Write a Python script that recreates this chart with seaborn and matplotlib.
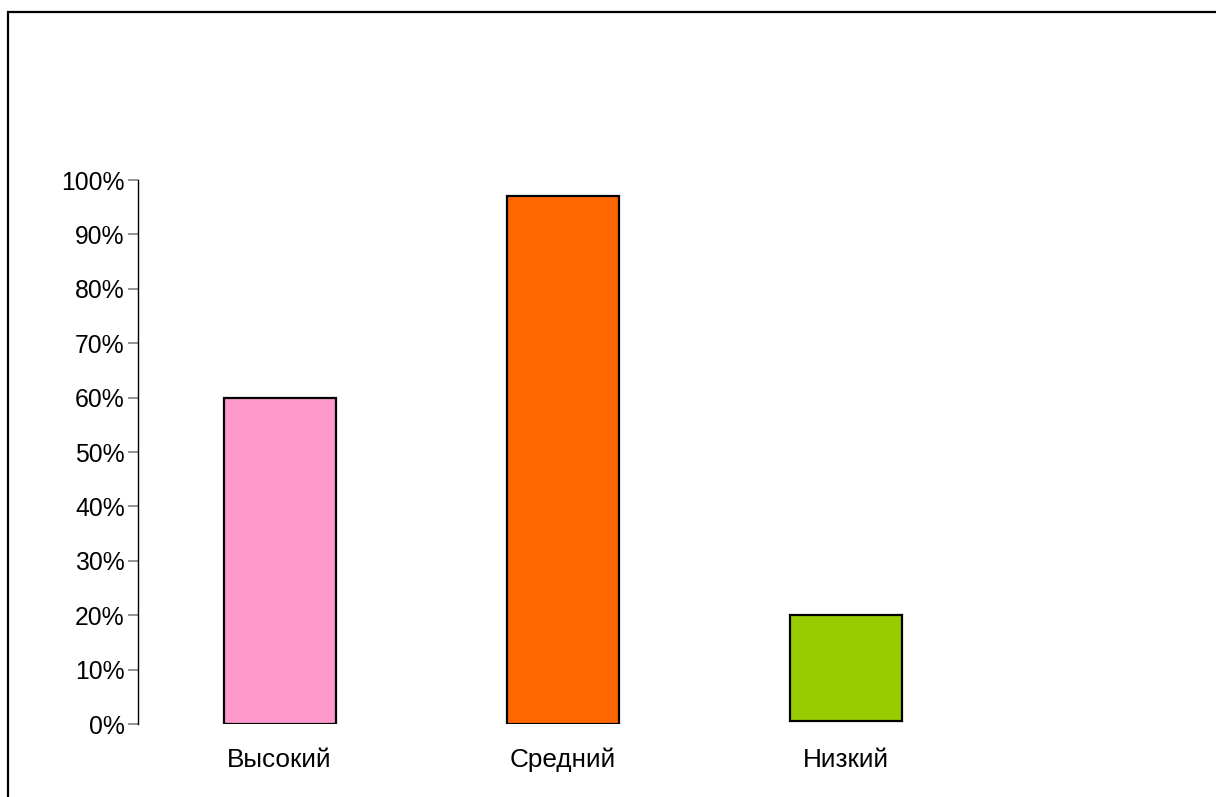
import matplotlib
matplotlib.use("Agg")
import matplotlib.pyplot as plt
import seaborn as sns
import pandas as pd
from matplotlib.patches import Rectangle

categories = ["Высокий", "Средний", "Низкий"]
values = [60, 97, 20]
bar_base = [0, 0, 0.5]
colors = ["#FF99CC", "#FF6600", "#99CC00"]
y_ticks = [0, 10, 20, 30, 40, 50, 60, 70, 80, 90, 100]
y_tick_labels = [f"{t}%" for t in y_ticks]

sns.set_style("white")
plt.rcParams["font.family"] = ["Liberation Sans", "DejaVu Sans"]

W, H = 1216, 797
fig = plt.figure(figsize=(W / 100, H / 100), dpi=100)
ax = fig.add_axes([138 / W, 1 - 724 / H, (987.5 - 138) / W, (724 - 180) / H])

df = pd.DataFrame({"cat": categories, "val": values})
sns.barplot(data=df, x="cat", y="val", hue="cat", palette=colors, legend=False,
            width=112 / 283, edgecolor="black", linewidth=1.6, ax=ax,
            saturation=1)

for p, b, v in zip(ax.patches, bar_base, values):
    p.set_y(b)
    p.set_height(v - b)

ax.set_xlim(-0.5, 2.5)
ax.set_ylim(0, 100)
ax.set_yticks(y_ticks)
ax.set_yticklabels(y_tick_labels)
ax.set_xlabel("")
ax.set_ylabel("")

for s in ["top", "right", "bottom"]:
    ax.spines[s].set_visible(False)
ax.spines["left"].set_color("black")
ax.spines["left"].set_linewidth(1.0)

ax.tick_params(axis="y", direction="out", length=7.5, width=1.2, color="#808080",
               pad=2, labelsize=17.8, labelcolor="black", left=True)
ax.tick_params(axis="x", length=0, pad=17, labelsize=18.8, labelcolor="black")

fig.patches.append(Rectangle((8 / W, -0.1), 1.2, (1 - 12 / H) + 0.1,
                             transform=fig.transFigure, fill=False,
                             edgecolor="black", linewidth=1.6))

fig.savefig("out.png", dpi=100)
